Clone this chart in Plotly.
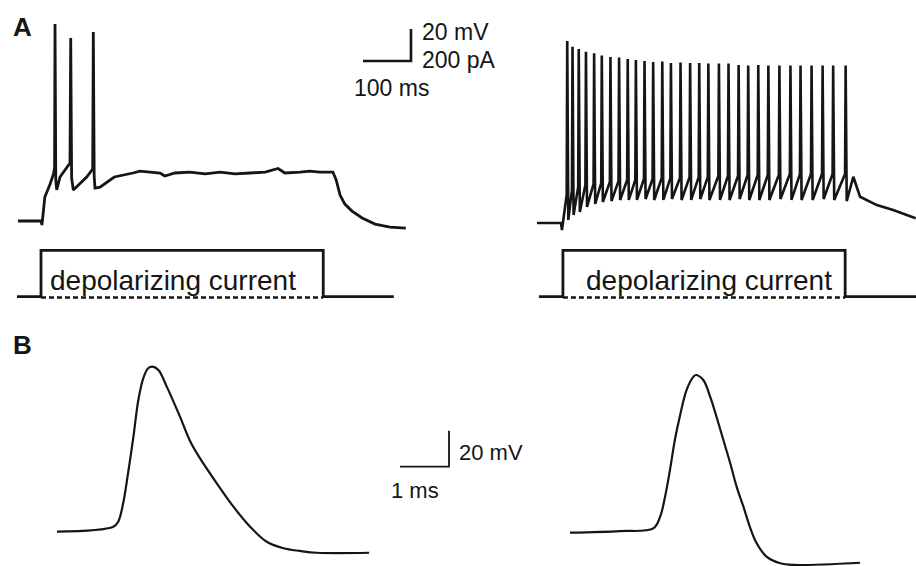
import plotly.graph_objects as go

W, H = 916, 566
INK = "#151515"
FONT = "Liberation Sans, Arial, Helvetica, sans-serif"

# ---------------- DATA ----------------
# Panel A, left cell: membrane potential (ms, mV)
A_LEFT_T = [52, 100, 102, 108, 119, 126, 128.3, 129.2, 130.8, 132.7, 139.6, 153.5,
            160.4, 161.9, 163.8, 167.3, 177.7, 195.2, 207.7, 209.0, 210.8, 212.5,
            222.9, 236.9, 252.7, 291.7, 306, 327, 348, 358, 379, 410, 442, 473, 504,
            535, 567, 594, 608, 640, 660, 681, 708, 715, 723, 733, 748, 769, 796,
            827, 860]
A_LEFT_MV = [-70, -70, -72.5, -55, -46.9, -40.6, -36.9, 53.1, -44.4, -50.6, -42.5,
             -36.9, -33.8, 44.4, -43.1, -50.6, -47.5, -42.5, -37.5, 48.1, -41.9,
             -49.4, -48.8, -45.6, -42.5, -40.0, -38.8, -39.4, -40.0, -41.9, -40.0,
             -39.4, -40.6, -39.4, -40.6, -40.0, -39.4, -37.2, -40.0, -39.4, -38.8,
             -39.4, -39.4, -44.4, -53.8, -59.4, -63.8, -68.1, -71.9, -73.8, -74.4]

# Panel A, right cell: onset, spike train, offset
A_RIGHT_PRE_T = [50, 100, 102, 106]
A_RIGHT_PRE_MV = [-70, -70, -74.4, -65]
SPIKE_T = [113, 124, 137, 152, 169, 185, 203, 221, 239, 256, 274, 292, 311, 329,
           349, 369, 388, 407, 429, 449, 470, 490, 511, 532, 555, 578, 599, 622,
           645, 667, 693]
SPIKE_PEAK_MV = [43.8, 40.2, 38.8, 37.1, 36.1, 34.7, 33.8, 33.4, 32.5, 31.9, 31.3,
                 30.6, 30.9, 30.0, 30.3, 30.0, 30.0, 29.7, 29.7, 29.7, 28.8, 28.4,
                 28.8, 28.4, 28.4, 28.4, 28.4, 28.4, 28.4, 28.4, 28.4]
SPIKE_THR_MV = [-52.5, -49.4, -47.5, -46.3, -45.6, -45.0, -44.4, -43.8, -43.1,
                -43.1, -42.5, -42.5, -41.9, -41.9, -41.9, -41.3, -41.3, -41.3,
                -40.6, -40.6, -40.6, -40.0, -40.0, -40.0, -40.0, -39.4, -39.4,
                -39.4, -39.4, -39.4, -39.4]
SPIKE_AHP_MV = [-68.1, -65.0, -63.1, -60.0, -58.1, -56.9, -56.3, -55.6, -55.6,
                -55.6, -55.0, -55.6, -55.6, -55.0, -55.6, -55.6, -55.0, -55.6,
                -55.6, -55.6, -55.0, -55.6, -55.6, -55.6, -55.0, -55.6, -55.6,
                -55.6, -55.0, -55.6, -56.3]
A_RIGHT_POST_T = [709, 723, 758, 792, 839]
A_RIGHT_POST_MV = [-41.1, -53.6, -58.8, -61.9, -67.1]

# Current steps (ms, pA)
STEP_PA = 290
STIM_LEFT_MS = [50, 100, 688, 835]     # start, on, off, end
STIM_RIGHT_MS = [54, 104, 692, 840]
DASH_PA = -5

# Panel B: single action potentials (ms, mV)
B_LEFT_T = [0, 1.15, 1.25, 1.35, 1.46, 1.56, 1.66, 1.76, 1.86, 1.95, 2.07, 2.24,
            2.51, 2.71, 2.92, 3.26, 3.60, 3.94, 4.28, 4.62, 4.96, 5.30, 6.37]
B_LEFT_MV = [-70, -67.2, -64.4, -54.2, -35.7, -17.2, 3.2, 15.2, 20.8, 21.7, 19.8,
             10.6, -6.1, -19.3, -29.3, -43.1, -56.1, -67.2, -75.6, -79.2, -80.7,
             -81.7, -81.7]
B_RIGHT_T = [0, 1.02, 1.70, 1.84, 1.94, 2.04, 2.14, 2.24, 2.38, 2.52, 2.57, 2.72,
             2.86, 2.99, 3.13, 3.27, 3.40, 3.54, 3.67, 3.81, 4.01, 4.29, 4.56, 5.92]
B_RIGHT_MV = [-70, -69.1, -67.6, -61.1, -50.0, -35.2, -18.5, -5.6, 9.3, 16.7, 17.6,
              14.8, 5.6, -5.6, -18.5, -31.4, -44.4, -55.6, -66.7, -75.9, -83.3,
              -87.0, -87.9, -86.7]

# Scale bars
SCALE_A_MS, SCALE_A_MV = 100, 20
SCALE_B_MS, SCALE_B_MV = 1, 20

# ---------------- LAYOUT HELPERS ----------------
def xr(px, val, ppu):
    return [val - px / ppu, val + (W - px) / ppu]

def yr(py, val, ppu):
    return [val - (H - py) / ppu, val + py / ppu]

A_PPMS, A_PPMV, PPPA = 0.48, 1.6, 0.16
B_PPMS, B_PPMV = 49.0, 1.8

fig = go.Figure()

def line(x, y, xa, ya, width=2.7, dash=None, shape="linear"):
    ln = dict(color=INK, width=width, dash=dash, shape=shape)
    if shape == "spline":
        ln["smoothing"] = 1.0
    fig.add_trace(go.Scatter(x=x, y=y, xaxis=xa, yaxis=ya, mode="lines", line=ln,
                             hoverinfo="skip", showlegend=False))

# A left voltage
line(A_LEFT_T, A_LEFT_MV, "x", "y", width=2.8)

# A right voltage built from the spike arrays
rt, rv = list(A_RIGHT_PRE_T), list(A_RIGHT_PRE_MV)
for t, pk, th, ah in zip(SPIKE_T, SPIKE_PEAK_MV, SPIKE_THR_MV, SPIKE_AHP_MV):
    rt += [t - 1.2, t, t + 2.2]
    rv += [th, pk, ah]
rt += A_RIGHT_POST_T
rv += A_RIGHT_POST_MV
line(rt, rv, "x2", "y2", width=2.6)

# Current steps
for stim, xa in ((STIM_LEFT_MS, "x"), (STIM_RIGHT_MS, "x2")):
    s, on, off, e = stim
    line([s, on, on, off, off, e], [0, 0, STEP_PA, STEP_PA, 0, 0], xa, "y3", width=2.8)
    line([on, off], [DASH_PA, DASH_PA], xa, "y3", width=2.6, dash="5px,3px")

# Panel B
line(B_LEFT_T, B_LEFT_MV, "x3", "y4", width=2.2, shape="spline")
line(B_RIGHT_T, B_RIGHT_MV, "x4", "y5", width=2.2, shape="spline")

# Scale bars
a0t, a0v = 770.8, 30.0
line([a0t, a0t + SCALE_A_MS, a0t + SCALE_A_MS], [a0v, a0v, a0v + SCALE_A_MV], "x", "y", width=2.6)
b0t, b0v = 7.0, -33.9
line([b0t, b0t + SCALE_B_MS, b0t + SCALE_B_MS], [b0v, b0v, b0v + SCALE_B_MV], "x3", "y4", width=1.8)

def label(text, px, py, size=23, xanchor="left", bold=False):
    fig.add_annotation(text=f"<b>{text}</b>" if bold else text,
                       x=px / W, y=1 - py / H, xref="paper", yref="paper",
                       xanchor=xanchor, yanchor="middle", showarrow=False,
                       font=dict(family=FONT, size=size, color=INK))

label("A", 22.5, 27, size=26, xanchor="center", bold=True)
label("B", 22.5, 345, size=26, xanchor="center", bold=True)
label("20 mV", 420, 32)
label("200 pA", 420, 60)
label("100 ms", 352, 88)
label("depolarizing current", 172.5, 280, size=28, xanchor="center")
label("depolarizing current", 709, 280, size=28, xanchor="center")
label("20 mV", 457, 452, size=22)
label("1 ms", 389, 490, size=22)

ax = dict(visible=False, showgrid=False, zeroline=False, fixedrange=True, domain=[0, 1])
fig.update_layout(
    width=W, height=H, autosize=False,
    margin=dict(l=0, r=0, t=0, b=0, pad=0),
    paper_bgcolor="white", plot_bgcolor="rgba(0,0,0,0)",
    xaxis=dict(**ax, range=xr(41, 100, A_PPMS)),
    xaxis2=dict(**ax, range=xr(561, 100, A_PPMS), overlaying="x"),
    xaxis3=dict(**ax, range=xr(57, 0, B_PPMS), overlaying="x"),
    xaxis4=dict(**ax, range=xr(570, 0, B_PPMS), overlaying="x"),
    yaxis=dict(**ax, range=yr(221, -70, A_PPMV)),
    yaxis2=dict(**ax, range=yr(223, -70, A_PPMV), overlaying="y"),
    yaxis3=dict(**ax, range=yr(296.7, 0, PPPA), overlaying="y"),
    yaxis4=dict(**ax, range=yr(531.7, -70, B_PPMV), overlaying="y"),
    yaxis5=dict(**ax, range=yr(532.7, -70, B_PPMV), overlaying="y"),
)

fig.write_html("out.html")
